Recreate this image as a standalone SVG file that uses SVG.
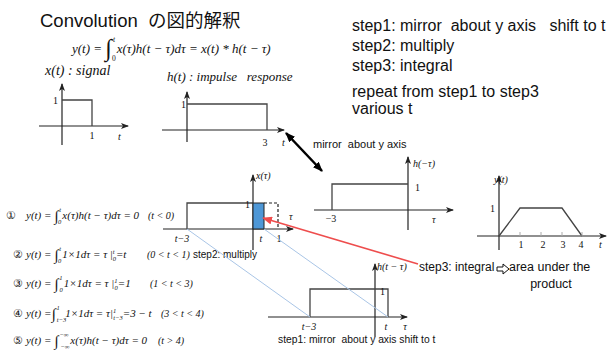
<svg xmlns="http://www.w3.org/2000/svg" width="608" height="358" viewBox="0 0 608 358">
<defs>
<style>
text{white-space:pre}
.ax{stroke:#222;stroke-width:1.2;fill:none}
.ln{stroke:#444;stroke-width:1.3;fill:none}
.m{font-family:"Liberation Serif",serif;font-style:italic;fill:#111}
.r{font-family:"Liberation Serif",serif;fill:#111}
.s{font-family:"Liberation Sans",Arial,sans-serif;fill:#111}
.int{font-style:normal;font-size:15px}
.l{font-size:6.5px}
.c{font-size:10px}
</style>
<marker id="ah" viewBox="0 0 8 6" refX="7" refY="3" markerWidth="8" markerHeight="6" markerUnits="userSpaceOnUse" orient="auto"><path d="M0,0 L8,3 L0,6 L2,3 z" fill="#222"/></marker>
<marker id="bh" viewBox="0 0 10 8" refX="9" refY="4" markerWidth="10" markerHeight="8" markerUnits="userSpaceOnUse" orient="auto-start-reverse"><path d="M0,0 L10,4 L0,8 z" fill="#000"/></marker>
<marker id="rh" viewBox="0 0 10 8" refX="9" refY="4" markerWidth="10" markerHeight="8" markerUnits="userSpaceOnUse" orient="auto"><path d="M0,0 L10,4 L0,8 z" fill="#ee4d4d"/></marker>
</defs>
<rect width="608" height="358" fill="#fff"/>

<g id="title">
<text x="40" y="27" class="s" font-size="18.5">Convolution&#160; <tspan font-family="'Noto Sans CJK JP',sans-serif">の図的解釈</tspan></text>
<text x="72" y="53" class="m" font-size="13">y(t) = <tspan font-style="normal" font-size="24" dy="3">∫</tspan><tspan font-size="7.5" dy="-14" dx="1">t</tspan><tspan font-size="7.5" dx="-3" dy="19" font-style="normal">0</tspan><tspan dy="-8" dx="1">x(τ)h(t − τ)dτ = x(t) * h(t − τ)</tspan></text>
</g>

<g id="steps" class="s" font-size="16">
<text x="352" y="31">step1: mirror&#160; about y axis&#160;&#160; shift to t</text>
<text x="352" y="51">step2: multiply</text>
<text x="352" y="71">step3: integral</text>
<text x="352" y="97">repeat from step1 to step3</text>
<text x="352" y="114">various t</text>
</g>

<g id="graph-x">
<text x="45" y="75" class="m" font-size="14">x(t) : signal</text>
<line class="ax" x1="62" y1="145" x2="62" y2="84" marker-end="url(#ah)"/>
<line class="ax" x1="39" y1="126" x2="128" y2="126" marker-end="url(#ah)"/>
<path class="ln" d="M62,100 H92 V126"/>
<text x="58" y="104" class="r" font-size="10" text-anchor="end">1</text>
<text x="92" y="139" class="r" font-size="10" text-anchor="middle">1</text>
<text x="118" y="140" class="m" font-size="10">t</text>
</g>

<g id="graph-h">
<text x="167" y="81" class="m" font-size="13">h(t) : impulse&#160;&#160; response</text>
<line class="ax" x1="187" y1="142" x2="187" y2="92" marker-end="url(#ah)"/>
<line class="ax" x1="162" y1="130" x2="284" y2="130" marker-end="url(#ah)"/>
<path class="ln" d="M187,104 H267 V130"/>
<text x="186" y="108" class="r" font-size="10" text-anchor="end">1</text>
<text x="265" y="146" class="r" font-size="10" text-anchor="middle">3</text>
<text x="282" y="146" class="m" font-size="10">t</text>
</g>

<g id="graph-hmirror">
<text x="313" y="148" class="s" font-size="11">mirror&#160; about y axis</text>
<line class="ax" x1="408" y1="230" x2="408" y2="157" marker-end="url(#ah)"/>
<line class="ax" x1="314" y1="210" x2="453" y2="210" marker-end="url(#ah)"/>
<path class="ln" d="M332,210 V184 H408"/>
<text x="413" y="167" class="m" font-size="10">h(−τ)</text>
<text x="415" y="191" class="r" font-size="10">1</text>
<text x="331" y="222" class="r" font-size="10" text-anchor="middle">−3</text>
<text x="432" y="223" class="m" font-size="10">τ</text>
</g>

<g id="graph-y">
<line class="ax" x1="499" y1="250" x2="499" y2="176" marker-end="url(#ah)"/>
<line class="ax" x1="477" y1="236" x2="606" y2="236" marker-end="url(#ah)"/>
<path class="ln" d="M499,236 L520,208 H562 L582,236"/>
<path d="M520,236 V232 M541,236 V232 M562,236 V232 M582,236 V232" stroke="#aaa" stroke-width="1"/>
<text x="494" y="183" class="m" font-size="10">y(t)</text>
<text x="495" y="212" class="r" font-size="10" text-anchor="end">1</text>
<text x="521" y="248" class="r" font-size="10" text-anchor="middle">1</text>
<text x="543" y="248" class="r" font-size="10" text-anchor="middle">2</text>
<text x="563" y="248" class="r" font-size="10" text-anchor="middle">3</text>
<text x="581" y="248" class="r" font-size="10" text-anchor="middle">4</text>
<text x="599" y="248" class="m" font-size="10">t</text>
</g>

<g id="graph-product">
<line class="ax" x1="253" y1="250" x2="253" y2="175" marker-end="url(#ah)"/>
<line class="ax" x1="163" y1="229" x2="293" y2="229" marker-end="url(#ah)"/>
<path class="ln" d="M187,229 V203 H253"/>
<rect x="253" y="203" width="11" height="26" fill="#4e97d6" stroke="#222" stroke-width="1"/>
<path d="M264,203 H278 V229" fill="none" stroke="#222" stroke-width="1.2" stroke-dasharray="3,2"/>
<text x="256" y="179" class="m" font-size="10">x(τ)</text>
<text x="250" y="208" class="r" font-size="10" text-anchor="end">1</text>
<text x="182" y="242" class="m" font-size="10" text-anchor="middle">t−3</text>
<text x="261" y="242" class="m" font-size="10" text-anchor="middle">t</text>
<text x="279" y="242" class="r" font-size="10" text-anchor="middle">1</text>
<text x="289" y="220" class="m" font-size="10">τ</text>
</g>

<g id="graph-hshift">
<line class="ax" x1="375" y1="337" x2="375" y2="264" marker-end="url(#ah)"/>
<line class="ax" x1="268" y1="317" x2="407" y2="317" marker-end="url(#ah)"/>
<path class="ln" d="M310,317 V289 H388 V317"/>
<text x="377" y="270" class="m" font-size="10">h(t − τ)</text>
<text x="380" y="295" class="r" font-size="10">1</text>
<text x="309" y="330" class="m" font-size="10" text-anchor="middle">t−3</text>
<text x="386" y="330" class="m" font-size="10" text-anchor="middle">t</text>
<text x="405" y="330" class="m" font-size="10" text-anchor="middle">τ</text>
<text x="278" y="343" class="s" font-size="10.3">step1: mirror&#160; about y axis shift to t</text>
</g>

<g id="step3-label">
<text x="419" y="271" class="s" font-size="12">step3: integral</text>
<path d="M497,267 H503 V264 L509,269 L503,274 V271 H497 Z" fill="#fff" stroke="#111" stroke-width="1"/>
<text x="509" y="271" class="s" font-size="12.5">area under the</text>
<text x="551" y="288" class="s" font-size="12.5" text-anchor="middle">product</text>
</g>

<g id="equations">
<text x="6" y="219" class="r" font-size="11" font-family="'DejaVu Sans',sans-serif">①</text>
<text x="13" y="258" class="r" font-size="11" font-family="'DejaVu Sans',sans-serif">②</text>
<text x="13" y="287" class="r" font-size="11" font-family="'DejaVu Sans',sans-serif">③</text>
<text x="13" y="317" class="r" font-size="11" font-family="'DejaVu Sans',sans-serif">④</text>
<text x="13" y="344" class="r" font-size="11" font-family="'DejaVu Sans',sans-serif">⑤</text>
<text x="26" y="219" class="m" font-size="11">y(t) = <tspan class="int" dy="2">∫</tspan><tspan class="l" dy="-9" dx="1">t</tspan><tspan class="l" dx="-3" dy="12">0</tspan><tspan dy="-5" dx="1">x(τ)h(t − τ)dτ = 0</tspan><tspan class="c" x="148">(t &lt; 0)</tspan></text>
<text x="26" y="258" class="m" font-size="11">y(t) = <tspan class="int" dy="2">∫</tspan><tspan class="l" dy="-9" dx="1">t</tspan><tspan class="l" dx="-3" dy="12">0</tspan><tspan dy="-5" dx="1">1×1dτ = τ |</tspan><tspan class="l" dy="-4">t</tspan><tspan class="l" dx="-2" dy="7">0</tspan><tspan dy="-3">=t</tspan><tspan class="c" x="147">(0 &lt; t &lt; 1)</tspan></text>
<text x="193" y="258" class="s" font-size="10">step2: multiply</text>
<text x="26" y="287" class="m" font-size="11">y(t) = <tspan class="int" dy="2">∫</tspan><tspan class="l" dy="-9" dx="1">1</tspan><tspan class="l" dx="-3" dy="12">0</tspan><tspan dy="-5" dx="1">1×1dτ = τ |</tspan><tspan class="l" dy="-4">1</tspan><tspan class="l" dx="-3" dy="7">0</tspan><tspan dy="-3">=1</tspan><tspan class="c" x="150">(1 &lt; t &lt; 3)</tspan></text>
<text x="26" y="317" class="m" font-size="11">y(t) =<tspan class="int" dy="2">∫</tspan><tspan class="l" dy="-9" dx="1">1</tspan><tspan class="l" dx="-3" dy="12">t−3</tspan><tspan dy="-5" dx="-1">1×1dτ = τ|</tspan><tspan class="l" dy="-4">1</tspan><tspan class="l" dx="-3" dy="7">t−3</tspan><tspan dy="-3">=3 − t</tspan><tspan class="c" x="161">(3 &lt; t &lt; 4)</tspan></text>
<text x="26" y="344" class="m" font-size="11">y(t) = <tspan class="int" dy="2">∫</tspan><tspan class="l" dy="-9" dx="1">−∞</tspan><tspan class="l" dx="-8" dy="12">−∞</tspan><tspan dy="-5" dx="1">x(τ)h(t − τ)dτ = 0</tspan><tspan class="c" x="158">(t &gt; 4)</tspan></text>
</g>

<g id="connectors">
<line x1="187" y1="229" x2="310" y2="317" stroke="#a9c5e6" stroke-width="1"/>
<line x1="264" y1="229" x2="388" y2="317" stroke="#a9c5e6" stroke-width="1"/>
<line x1="286" y1="133" x2="322" y2="171" stroke="#000" stroke-width="2.5" marker-start="url(#bh)" marker-end="url(#bh)"/>
<line x1="418" y1="264" x2="263" y2="218" stroke="#ee4d4d" stroke-width="1.6" marker-end="url(#rh)"/>
</g>
</svg>
